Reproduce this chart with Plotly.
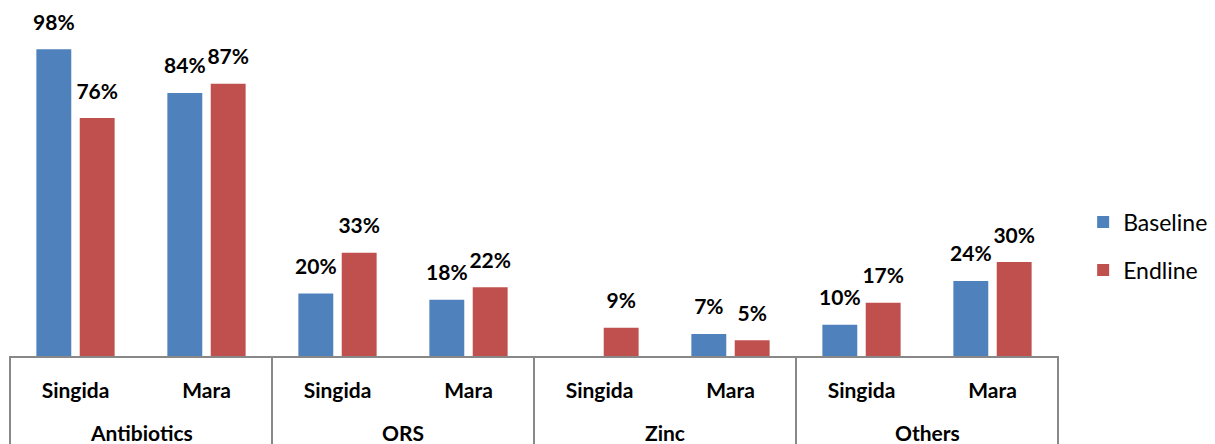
import plotly.graph_objects as go

groups = ["Antibiotics", "ORS", "Zinc", "Others"]
regions = ["Singida", "Mara"] * 4
baseline = [98, 84, 20, 18, None, 7, 10, 24]
endline = [76, 87, 33, 22, 9, 5, 17, 30]

FONT = "Lato, Open Sans, sans-serif"

# unique category keys (group|region); tick text shows the region
cat_keys = [f"{g}|{r}" for g in groups for r in ["Singida", "Mara"]]

def labels(vals):
    return [
        "" if v is None else
        f"<span style='font-size:21px'>{v}%</span><br><span style='font-size:4px'> </span>"
        for v in vals
    ]

fig = go.Figure()
for name, vals, color in [("Baseline", baseline, "#4F81BD"), ("Endline", endline, "#C0504D")]:
    fig.add_trace(go.Bar(
        name=name, x=cat_keys, y=vals,
        marker=dict(color=color, line=dict(width=0)),
        text=labels(vals), textposition="outside", cliponaxis=False,
        constraintext="none",
        textfont=dict(family=FONT, size=12, color="black", weight="bold"),
        legendgroup=name,
    ))

n_groups = len(groups)
# group dividers and group labels (in axis-domain units)
for i in range(n_groups + 1):
    fig.add_shape(type="line", xref="x domain", yref="paper",
                  x0=i / n_groups, x1=i / n_groups, y0=0, y1=-0.4,
                  line=dict(color="#888888", width=2))
for i, g in enumerate(groups):
    fig.add_annotation(text=f"<b>{g}</b>", xref="x domain", yref="paper",
                       x=(i + 0.5) / n_groups, y=0, yshift=-76,
                       xanchor="center", yanchor="middle",
                       showarrow=False,
                       font=dict(family=FONT, size=21, color="black"))

# page body has an 8px margin, so the figure is drawn 8px in from the corner
fig.update_layout(
    width=1207, height=436,
    margin=dict(l=2, r=153, t=35, b=88),
    paper_bgcolor="white", plot_bgcolor="white",
    barmode="group", bargap=0.338, bargroupgap=0.195,
    showlegend=True,
    legend=dict(x=1.024, y=0.351, yanchor="middle", xanchor="left",
                font=dict(family=FONT, size=23, color="black"),
                tracegroupgap=15, traceorder="grouped"),
)
fig.update_yaxes(range=[0, 100], visible=False, showgrid=False)
fig.update_xaxes(
    type="category", automargin=False,
    tickmode="array", tickvals=cat_keys, ticktext=[f"<b>{r}</b>" for r in regions],
    showline=True, linecolor="#888888", linewidth=2,
    tickfont=dict(family=FONT, size=21, color="black"),
    ticks="", ticklabelstandoff=15,
)

fig.write_html("out.html")
